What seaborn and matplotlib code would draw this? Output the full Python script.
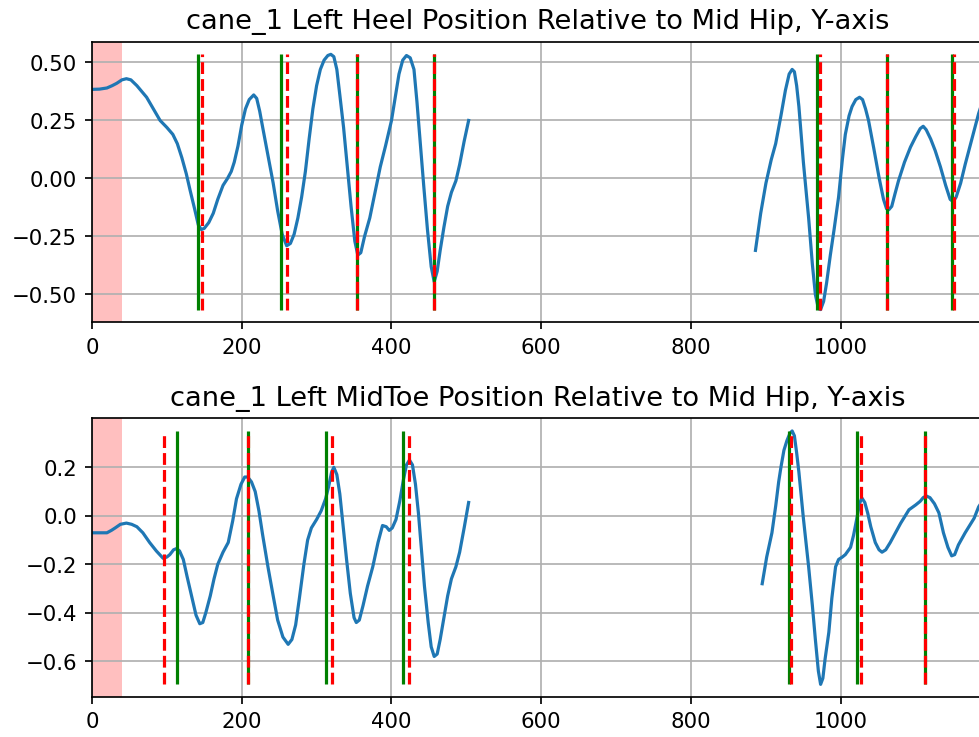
import numpy as np
import pandas as pd
import matplotlib
matplotlib.use("Agg")
import matplotlib.pyplot as plt
import seaborn as sns

# ---- Heel (top) data, two recorded segments ----
heel_x1 = [0, 10, 20, 27, 33, 40, 46, 52, 60, 73, 82, 91, 100, 108, 114, 120, 126, 131, 137,
           142, 146, 150, 156, 162, 168, 175, 181, 186, 190, 195, 200, 205, 210, 216, 220,
           224, 228, 235, 242, 248, 254, 260, 265, 270, 275, 280, 285, 290, 295, 300, 305,
           310, 315, 319, 323, 327, 331, 336, 341, 346, 351, 355, 359, 364, 371, 378, 385,
           392, 400, 405, 410, 415, 420, 425, 430, 434, 438, 443, 448, 453, 457, 461, 465,
           470, 475, 480, 486, 491, 497, 503]
heel_y1 = [0.384, 0.385, 0.39, 0.40, 0.41, 0.425, 0.43, 0.425, 0.40, 0.35, 0.30, 0.25, 0.22,
           0.19, 0.15, 0.09, 0.02, -0.05, -0.13, -0.20, -0.22, -0.215, -0.19, -0.15, -0.09,
           -0.03, 0.0, 0.03, 0.07, 0.14, 0.23, 0.30, 0.34, 0.36, 0.345, 0.29, 0.22, 0.10,
           -0.02, -0.14, -0.24, -0.29, -0.28, -0.24, -0.17, -0.08, 0.03, 0.17, 0.30, 0.40,
           0.47, 0.51, 0.53, 0.535, 0.525, 0.47, 0.36, 0.22, 0.05, -0.12, -0.27, -0.33, -0.32,
           -0.25, -0.17, -0.06, 0.05, 0.14, 0.25, 0.35, 0.45, 0.51, 0.53, 0.52, 0.47, 0.33,
           0.17, -0.03, -0.22, -0.38, -0.445, -0.40, -0.31, -0.21, -0.12, -0.06, -0.01, 0.06,
           0.16, 0.25]
heel_x2 = [886, 893, 900, 907, 913, 920, 926, 931, 935, 938, 941, 944, 950, 957, 962, 966,
           970, 973, 977, 981, 986, 991, 997, 1002, 1006, 1011, 1015, 1020, 1025, 1029, 1033,
           1037, 1044, 1051, 1057, 1061, 1064, 1068, 1072, 1077, 1085, 1093, 1100, 1106, 1110,
           1114, 1120, 1126, 1133, 1140, 1146, 1150, 1154, 1160, 1166, 1175, 1184, 1190]
heel_y2 = [-0.31, -0.15, -0.02, 0.08, 0.15, 0.27, 0.38, 0.45, 0.47, 0.46, 0.40, 0.31, 0.07,
           -0.17, -0.37, -0.50, -0.56, -0.565, -0.53, -0.45, -0.33, -0.22, -0.08, 0.08, 0.19,
           0.27, 0.31, 0.34, 0.35, 0.34, 0.30, 0.25, 0.13, 0.005, -0.09, -0.13, -0.135, -0.12,
           -0.07, -0.01, 0.07, 0.135, 0.18, 0.215, 0.225, 0.21, 0.17, 0.12, 0.05, -0.03, -0.09,
           -0.10, -0.08, -0.02, 0.06, 0.17, 0.28, 0.34]
heel_green = [141, 253, 354, 457, 968, 1061, 1148]
heel_red = [147, 261, 354, 457, 972, 1061, 1151]

# ---- MidToe (bottom) data ----
toe_x1 = [0, 10, 20, 26, 31, 38, 46, 53, 60, 68, 77, 86, 95, 100, 104, 109, 113, 117, 122,
          127, 133, 139, 144, 148, 152, 158, 163, 168, 175, 182, 188, 193, 199, 204, 208, 213,
          218, 223, 228, 235, 242, 248, 255, 262, 267, 272, 277, 283, 288, 293, 300, 306, 312,
          316, 320, 323, 327, 331, 335, 340, 345, 350, 353, 357, 362, 368, 375, 382, 388, 393,
          397, 401, 406, 411, 416, 420, 424, 428, 432, 436, 440, 444, 449, 453, 457, 461, 465,
          470, 475, 480, 486, 491, 497, 503]
toe_y1 = [-0.07, -0.07, -0.07, -0.06, -0.05, -0.035, -0.03, -0.035, -0.045, -0.07, -0.11,
          -0.145, -0.175, -0.17, -0.16, -0.14, -0.135, -0.145, -0.18, -0.25, -0.33, -0.41,
          -0.445, -0.44, -0.40, -0.33, -0.26, -0.20, -0.15, -0.11, -0.02, 0.07, 0.13, 0.16,
          0.16, 0.14, 0.10, 0.02, -0.08, -0.21, -0.33, -0.43, -0.50, -0.53, -0.51, -0.45,
          -0.34, -0.20, -0.10, -0.05, -0.015, 0.02, 0.07, 0.12, 0.18, 0.20, 0.17, 0.09, -0.03,
          -0.18, -0.32, -0.42, -0.44, -0.43, -0.37, -0.29, -0.21, -0.11, -0.04, -0.045, -0.06,
          -0.05, -0.015, 0.06, 0.15, 0.21, 0.23, 0.21, 0.13, 0.01, -0.14, -0.29, -0.44, -0.54,
          -0.58, -0.57, -0.51, -0.42, -0.33, -0.26, -0.21, -0.15, -0.05, 0.055]
toe_x2 = [895, 901, 908, 913, 917, 920, 924, 928, 932, 935, 938, 941, 944, 950, 957, 962,
          966, 970, 973, 976, 979, 984, 988, 993, 997, 1002, 1006, 1013, 1017, 1021, 1025,
          1028, 1032, 1036, 1040, 1046, 1051, 1055, 1060, 1066, 1073, 1080, 1086, 1091, 1100,
          1106, 1110, 1114, 1119, 1125, 1131, 1137, 1143, 1148, 1152, 1157, 1166, 1172, 1178,
          1184, 1190]
toe_y2 = [-0.28, -0.17, -0.07, 0.04, 0.14, 0.20, 0.27, 0.31, 0.34, 0.35, 0.33, 0.26, 0.18,
          -0.01, -0.21, -0.37, -0.51, -0.64, -0.695, -0.67, -0.59, -0.48, -0.34, -0.21, -0.18,
          -0.17, -0.16, -0.13, -0.08, -0.017, 0.05, 0.074, 0.055, 0.01, -0.045, -0.11, -0.14,
          -0.15, -0.14, -0.11, -0.07, -0.03, 0.0, 0.025, 0.045, 0.06, 0.075, 0.082, 0.075,
          0.05, 0.012, -0.07, -0.13, -0.165, -0.16, -0.12, -0.07, -0.04, -0.01, 0.037, 0.065]
toe_green = [113, 208, 313, 416, 931, 1021, 1112]
toe_red = [96, 208, 321, 423, 933, 1027, 1112]

shade_start, shade_end = 0, 40
x_max = 1190

titles = ["cane_1 Left Heel Position Relative to Mid Hip, Y-axis",
          "cane_1 Left MidToe Position Relative to Mid Hip, Y-axis"]

fig = plt.figure(figsize=(6.4, 4.82), dpi=153)
ax1 = fig.add_axes([0.0939, 0.5623, 1.004 - 0.0939, 0.943 - 0.5623])
ax2 = fig.add_axes([0.0939, 0.0542, 1.004 - 0.0939, 0.4322 - 0.0542])

panels = [
    (ax1, heel_x1, heel_y1, heel_x2, heel_y2, heel_green, heel_red, titles[0]),
    (ax2, toe_x1, toe_y1, toe_x2, toe_y2, toe_green, toe_red, titles[1]),
]

for ax, x1, y1, x2, y2, gr, rd, title in panels:
    d1 = pd.DataFrame({"frame": x1, "pos": y1})
    d2 = pd.DataFrame({"frame": x2, "pos": y2})
    sns.lineplot(data=d1, x="frame", y="pos", ax=ax, color="#1f77b4", linewidth=1.5, sort=False)
    sns.lineplot(data=d2, x="frame", y="pos", ax=ax, color="#1f77b4", linewidth=1.5, sort=False)
    ymin = min(min(y1), min(y2))
    ymax = max(max(y1), max(y2))
    ax.vlines(gr, ymin, ymax, colors="g", linestyles="-", linewidth=1.5)
    ax.vlines(rd, ymin, ymax, colors="r", linestyles="--", linewidth=1.5)
    ax.axvspan(shade_start, shade_end, color="red", alpha=0.25, linewidth=0)
    rng = ymax - ymin
    ax.set_ylim(ymin - 0.05 * rng, ymax + 0.05 * rng)
    ax.set_xlim(0, x_max)
    ax.set_xticks([0, 200, 400, 600, 800, 1000])
    ax.grid(True)
    ax.set_xlabel("")
    ax.set_ylabel("")
    ax.set_title(title, fontsize=12.8)

ax1.set_yticks([-0.5, -0.25, 0.0, 0.25, 0.5])
ax2.set_yticks([-0.6, -0.4, -0.2, 0.0, 0.2])

fig.savefig("out.png", dpi=153)
